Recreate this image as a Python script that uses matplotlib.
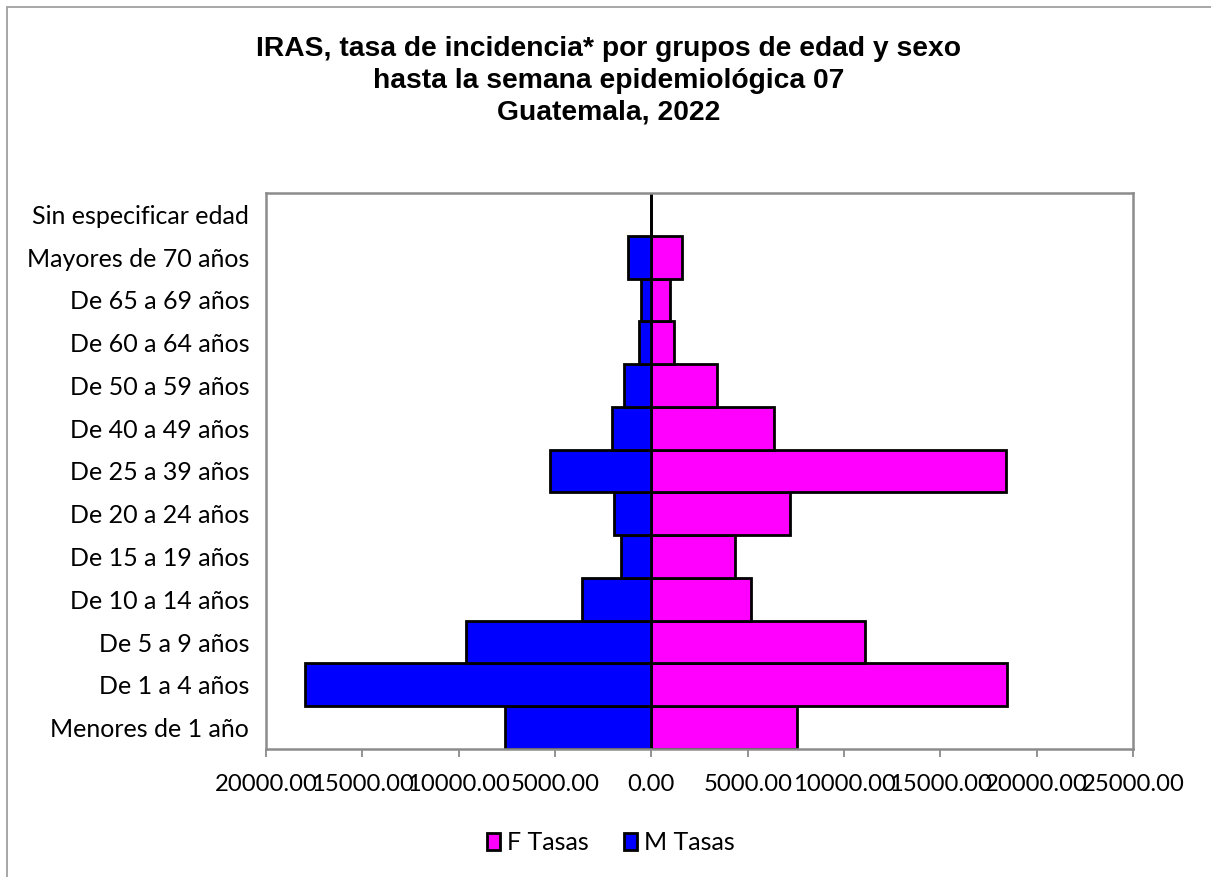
import matplotlib
matplotlib.use("Agg")
import matplotlib.pyplot as plt
from matplotlib.patches import Rectangle, Patch
from matplotlib.ticker import FuncFormatter, MultipleLocator

categories = ["Menores de 1 año", "De 1 a 4 años", "De 5 a 9 años", "De 10 a 14 años",
              "De 15 a 19 años", "De 20 a 24 años", "De 25 a 39 años", "De 40 a 49 años",
              "De 50 a 59 años", "De 60 a 64 años", "De 65 a 69 años", "Mayores de 70 años",
              "Sin especificar edad"]
f_tasas = [7544, 18447, 11091, 5156, 4325, 7197, 18430, 6350, 3390, 1194, 950, 1590, 0]
m_tasas = [7603, 18000, 9627, 3623, 1583, 1962, 5283, 2034, 1443, 633, 545, 1205, 0]

title_lines = ["IRAS, tasa de incidencia* por grupos de edad y sexo",
               "hasta la semana epidemiológica 07",
               "Guatemala, 2022"]

W, H = 1211, 877
fig = plt.figure(figsize=(W / 100, H / 100), dpi=100)
fig.patch.set_facecolor("white")

# outer chart border (partially cut)
fig.add_artist(Rectangle((7 / W, -0.1), 1.2, 1 - 7 / H + 0.1, transform=fig.transFigure,
                         fill=False, edgecolor="#A0A0A0", lw=1.3))

ax = fig.add_axes([266 / W, 1 - 749 / H, (1133 - 266) / W, (749 - 193) / H])

y = list(range(len(categories)))
ax.axvline(0, color="black", lw=1.0, zorder=1)
ax.barh(y, f_tasas, height=1.0, color="#FF00FF", edgecolor="black", lw=2.0, zorder=2,
        label="F Tasas")
ax.barh(y, [-v for v in m_tasas], height=1.0, color="#0000FF", edgecolor="black", lw=2.0,
        zorder=2, label="M Tasas")

ax.set_xlim(-20000, 25000)
ax.set_ylim(-0.5, len(categories) - 0.5)
ax.xaxis.set_major_locator(MultipleLocator(5000))
ax.xaxis.set_major_formatter(FuncFormatter(lambda v, p: f"{abs(v):.2f}"))
ax.set_yticks(y)
ax.set_yticklabels(categories)

lab_font = "Lato"
for lab in ax.get_yticklabels():
    lab.set_fontfamily(lab_font)
    lab.set_fontsize(18)
for lab in ax.get_xticklabels():
    lab.set_fontfamily(lab_font)
    lab.set_fontsize(17.2)

ax.tick_params(axis="y", length=0, pad=12)
ax.tick_params(axis="x", direction="out", length=6, width=1.2, color="#808080", pad=12)

for s in ax.spines.values():
    s.set_color("#8C8C8C")
    s.set_linewidth(1.8)
    s.set_zorder(3)

# title
for i, t in enumerate(title_lines):
    fig.text(609 / W, 1 - (49 + 31.5 * i) / H, t, ha="center", va="center",
             fontsize=20.3, fontweight="bold", family="Liberation Sans")

handles = [Patch(facecolor="#FF00FF", edgecolor="black", lw=2.0, label="F Tasas"),
           Patch(facecolor="#0000FF", edgecolor="black", lw=2.0, label="M Tasas")]
fig.legend(handles=handles, loc="center", bbox_to_anchor=(611 / W, 1 - 843 / H), ncol=2,
           frameon=False, prop={"family": lab_font, "size": 18}, handlelength=0.5,
           handleheight=0.65, handletextpad=0.3, columnspacing=1.4)

fig.savefig("out.png", dpi=100)
